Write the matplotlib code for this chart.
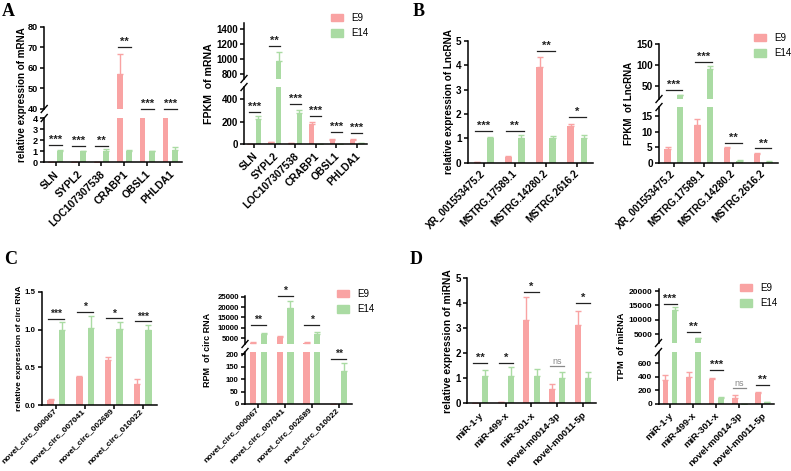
import numpy as np
import matplotlib
matplotlib.use('Agg')
import matplotlib.pyplot as plt
import matplotlib.transforms as mtransforms
from matplotlib.lines import Line2D
from matplotlib.patches import Patch

# ---- data -------------------------------------------------------------
# A: mRNA
mrna_genes = ['SLN', 'SYPL2', 'LOC107307538', 'CRABP1', 'OBSL1', 'PHLDA1']
mrna_rel_e9 = [0.02, 0.05, 0.05, 57.0, 10.0, 10.0]
mrna_rel_e9_err = [0.0, 0.0, 0.0, 9.8, 0.0, 0.0]
mrna_rel_e14 = [1.0, 1.0, 1.05, 1.02, 1.0, 1.08]
mrna_rel_e14_err = [0.08, 0.05, 0.18, 0.12, 0.06, 0.32]
mrna_rel_sig = ['***', '***', '**', '**', '***', '***']
mrna_rel_sig_y = [1.6, 1.5, 1.5, 70.0, 40.2, 39.9]

mrna_fpkm_e9 = [2, 15, 5, 182, 40, 40]
mrna_fpkm_e9_err = [0, 3, 1, 18, 4, 4]
mrna_fpkm_e14 = [222, 978, 275, 3, 3, 5]
mrna_fpkm_e14_err = [27, 115, 30, 0, 0, 1]
mrna_fpkm_sig = ['***', '**', '***', '***', '***', '***']
mrna_fpkm_sig_y = [284, 1175, 355, 249, 107, 98]

# B: LncRNA
lnc_ids = ['XR_001553475.2', 'MSTRG.17589.1', 'MSTRG.14280.2', 'MSTRG.2616.2']
lnc_rel_e9 = [0.01, 0.22, 3.92, 1.5]
lnc_rel_e9_err = [0.0, 0.07, 0.42, 0.1]
lnc_rel_e14 = [1.0, 1.0, 1.0, 1.0]
lnc_rel_e14_err = [0.05, 0.12, 0.1, 0.15]
lnc_rel_sig = ['***', '**', '**', '*']
lnc_rel_sig_y = [1.31, 1.31, 4.59, 1.86]

lnc_fpkm_e9 = [4.6, 12.2, 4.8, 3.0]
lnc_fpkm_e9_err = [0.4, 2.0, 0.4, 0.3]
lnc_fpkm_e14 = [29, 91, 0.8, 0.4]
lnc_fpkm_e14_err = [1.0, 7.0, 0.1, 0.1]
lnc_fpkm_sig = ['***', '***', '**', '**']
lnc_fpkm_sig_y = [42, 108, 6.35, 4.7]

# C: circRNA
circ_ids = ['novel_circ_000067', 'novel_circ_007041', 'novel_circ_002689', 'novel_circ_010022']
circ_rel_e9 = [0.06, 0.37, 0.6, 0.28]
circ_rel_e9_err = [0.02, 0.02, 0.04, 0.06]
circ_rel_e14 = [1.0, 1.02, 1.01, 1.0]
circ_rel_e14_err = [0.1, 0.16, 0.09, 0.06]
circ_rel_sig = ['***', '*', '*', '***']
circ_rel_sig_y = [1.14, 1.23, 1.15, 1.11]

circ_rpm_e9 = [2700, 5800, 3000, 0]
circ_rpm_e9_err = [600, 300, 300, 0]
circ_rpm_e14 = [7200, 19500, 7100, 135]
circ_rpm_e14_err = [300, 3500, 1000, 30]
circ_rpm_sig = ['**', '*', '*', '**']
circ_rpm_sig_y = [11400, 25200, 11400, 183]

# D: miRNA
mir_ids = ['miR-1-y', 'miR-499-x', 'miR-301-x', 'novel-m0014-3p', 'novel-m0011-5p']
mir_rel_e9 = [0.02, 0.05, 3.35, 0.58, 3.13]
mir_rel_e9_err = [0.0, 0.0, 0.9, 0.2, 0.55]
mir_rel_e14 = [1.08, 1.1, 1.08, 1.03, 1.03]
mir_rel_e14_err = [0.27, 0.35, 0.3, 0.22, 0.22]
mir_rel_sig = ['**', '*', '*', 'ns', '*']
mir_rel_sig_y = [1.6, 1.6, 4.44, 1.49, 4.0]

mir_tpm_e9 = [350, 395, 370, 90, 165]
mir_tpm_e9_err = [80, 85, 15, 40, 20]
mir_tpm_e14 = [13400, 3500, 95, 5, 30]
mir_tpm_e14_err = [1000, 250, 8, 0, 5]
mir_tpm_sig = ['***', '**', '***', 'ns', '**']
mir_tpm_sig_y = [15400, 5700, 500, 241, 281]

# ---- style ------------------------------------------------------------
W, H = 791, 471
PINK = '#F9A3A3'
GREEN = '#AADBA3'
plt.rcParams['font.family'] = ['Liberation Sans', 'DejaVu Sans']
plt.rcParams['font.weight'] = 'bold'

fig = plt.figure(figsize=(W / 100, H / 100), dpi=100)


def add_ax(x0, x1, y0, y1):
    return fig.add_axes([x0 / W, 1 - y1 / H, (x1 - x0) / W, (y1 - y0) / H])


def slash(x, y):
    """little // mark on the left spine, pixel coords"""
    fig.add_artist(Line2D([(x - 3) / W, (x + 3) / W], [1 - (y + 3.5) / H, 1 - (y - 3.5) / H],
                          transform=fig.transFigure, color='black', lw=1))


def panel(x0, x1, boxes, ylims, yticks, cats, e9, e9e, e14, e14e, sig, sig_y,
          ylabel, label_x, width=0.24, off=0.2, legend=None,
          xsize=7.5, ysize=7, lsize=7.2, ssize=8, xpad=4.5, xshift=2):
    n = len(cats)
    x = np.arange(n)
    axes = []
    for (yt, yb), lim, ticks in zip(boxes, ylims, yticks):
        ax = add_ax(x0, x1, yt, yb)
        ax.bar(x - off, e9, width, color=PINK, zorder=2)
        ax.bar(x + off, e14, width, color=GREEN, zorder=2)
        ax.errorbar(x - off, e9, yerr=[np.zeros(n), e9e], fmt='none', ecolor=PINK,
                    elinewidth=1, capsize=2, capthick=1, zorder=1)
        ax.errorbar(x + off, e14, yerr=[np.zeros(n), e14e], fmt='none', ecolor=GREEN,
                    elinewidth=1, capsize=2, capthick=1, zorder=1)
        ax.set_xlim(-0.5, n - 0.5)
        ax.set_ylim(*lim)
        ax.set_yticks(ticks)
        for s in ['top', 'right']:
            ax.spines[s].set_visible(False)
        ax.spines['left'].set_linewidth(1.1)
        ax.spines['bottom'].set_linewidth(1.1)
        ax.tick_params(axis='y', length=3, width=1.1, labelsize=ysize, pad=1.5)
        ax.tick_params(axis='x', length=3, width=1.1, labelsize=xsize, pad=xpad)
        axes.append(ax)

    for ax in axes[:-1]:
        ax.spines['bottom'].set_visible(False)
        ax.tick_params(axis='x', bottom=False, labelbottom=False)
    bottom = axes[-1]
    bottom.set_xticks(x)
    bottom.set_xticklabels(cats, rotation=45, ha='right', va='center', rotation_mode='anchor')
    shift = mtransforms.ScaledTranslation(xshift / 100, 0, fig.dpi_scale_trans)
    for t in bottom.get_xticklabels():
        t.set_transform(t.get_transform() + shift)

    # broken axis marks
    for k in range(len(boxes) - 1):
        slash(x0, boxes[k][1])
        slash(x0, boxes[k + 1][0])

    # significance bars
    for i, (lab, y) in enumerate(zip(sig, sig_y)):
        ax = axes[-1]
        for a in axes:
            if y >= a.get_ylim()[0] - 0.02 * (a.get_ylim()[1] - a.get_ylim()[0]):
                ax = a
                break
        col = '#888888' if lab == 'ns' else '#222222'
        ax.plot([i - 0.28, i + 0.28], [y, y], color=col, lw=0.9, clip_on=False, zorder=3)
        ax.text(i, y, lab, ha='center', va='bottom',
                fontsize=ssize if lab != 'ns' else ssize - 1.5,
                color=col, fontweight='bold' if lab != 'ns' else 'normal')

    ymid = (boxes[0][0] + boxes[-1][1]) / 2
    fig.text(label_x / W, 1 - ymid / H, ylabel, rotation=90, ha='center', va='center',
             fontsize=lsize)

    if legend is not None:
        lx, ly = legend
        axes[0].legend([Patch(color=PINK), Patch(color=GREEN)], ['E9', 'E14'],
                       loc='upper left', bbox_to_anchor=(lx / W, 1 - ly / H),
                       bbox_transform=fig.transFigure, frameon=False,
                       prop={'size': 7, 'weight': 'normal'}, handlelength=1.25,
                       handleheight=0.75, handletextpad=0.8, labelspacing=0.55,
                       borderaxespad=0, borderpad=0)
    return axes


# A
panel(44.2, 181.7, [(26.7, 109), (118, 162.3)], [(40, 80), (0, 4)],
      [[40, 50, 60, 70, 80], [0, 1, 2, 3, 4]], mrna_genes,
      mrna_rel_e9, mrna_rel_e9_err, mrna_rel_e14, mrna_rel_e14_err,
      mrna_rel_sig, mrna_rel_sig_y, 'relative expression of mRNA', 22,
      ysize=6.6, lsize=7.1)
panel(244, 367, [(23, 79), (87, 144)], [(733, 1480), (0, 507)],
      [[800, 1000, 1200, 1400], [0, 200, 400]], mrna_genes,
      mrna_fpkm_e9, mrna_fpkm_e9_err, mrna_fpkm_e14, mrna_fpkm_e14_err,
      mrna_fpkm_sig, mrna_fpkm_sig_y, 'FPKM  of mRNA', 209, legend=(331, 13),
      ysize=7, lsize=7.6)

# B
panel(468, 593, [(40.7, 162.7)], [(0, 5)], [[0, 1, 2, 3, 4, 5]], lnc_ids,
      lnc_rel_e9, lnc_rel_e9_err, lnc_rel_e14, lnc_rel_e14_err,
      lnc_rel_sig, lnc_rel_sig_y, 'relative expression of LncRNA', 449, width=0.22, off=0.21,
      xsize=7.2, ysize=7.2, lsize=7.2, xpad=3.5, xshift=0)
panel(659, 778, [(44, 99), (107, 163)], [(20, 150), (0, 18)],
      [[50, 100, 150], [0, 5, 10, 15]], lnc_ids,
      lnc_fpkm_e9, lnc_fpkm_e9_err, lnc_fpkm_e14, lnc_fpkm_e14_err,
      lnc_fpkm_sig, lnc_fpkm_sig_y, 'FPKM  of LncRNA', 629, width=0.22, off=0.21,
      legend=(754, 33), xsize=7.2, ysize=7.2, lsize=7, xpad=3.5, xshift=0)

# C
panel(42, 157, [(292, 405)], [(0, 1.5)], [[0.0, 0.5, 1.0, 1.5]], circ_ids,
      circ_rel_e9, circ_rel_e9_err, circ_rel_e14, circ_rel_e14_err,
      circ_rel_sig, circ_rel_sig_y, 'relative expression of circ RNA', 19.5, width=0.23, off=0.2,
      xsize=6.0, ysize=5.7, lsize=6, ssize=7.5, xpad=0.5, xshift=-1)
panel(245, 352, [(296, 344), (352, 404)], [(2300, 25300), (0, 210)],
      [[5000, 10000, 15000, 20000, 25000], [0, 50, 100, 150, 200]], circ_ids,
      circ_rpm_e9, circ_rpm_e9_err, circ_rpm_e14, circ_rpm_e14_err,
      circ_rpm_sig, circ_rpm_sig_y, 'RPM  of circ RNA', 208, width=0.23, off=0.2,
      legend=(337, 289), xsize=6.0, ysize=5.6, lsize=6.5, ssize=7.5, xpad=0.5, xshift=-1)

# D
panel(467.2, 595.7, [(278.3, 403.3)], [(0, 5)], [[0, 1, 2, 3, 4, 5]], mir_ids,
      mir_rel_e9, mir_rel_e9_err, mir_rel_e14, mir_rel_e14_err,
      mir_rel_sig, mir_rel_sig_y, 'relative expression of miRNA', 448,
      xsize=6.8, ysize=7, lsize=7.4)
panel(658.5, 774, [(289, 343), (352, 404)], [(1880, 20700), (0, 770)],
      [[5000, 10000, 15000, 20000], [0, 200, 400, 600]], mir_ids,
      mir_tpm_e9, mir_tpm_e9_err, mir_tpm_e14, mir_tpm_e14_err,
      mir_tpm_sig, mir_tpm_sig_y, 'TPM  of miRNA', 621, legend=(740, 283),
      xsize=6.8, ysize=6, lsize=6.7)

# panel letters
for lab, px, py in [('A', 2, 3), ('B', 413, 3), ('C', 4, 251), ('D', 410, 251)]:
    fig.text(px / W, 1 - py / H, lab, fontsize=13, fontweight='bold',
             family=['Liberation Serif', 'DejaVu Serif'], ha='left', va='top')

fig.savefig('out.png', dpi=100)
